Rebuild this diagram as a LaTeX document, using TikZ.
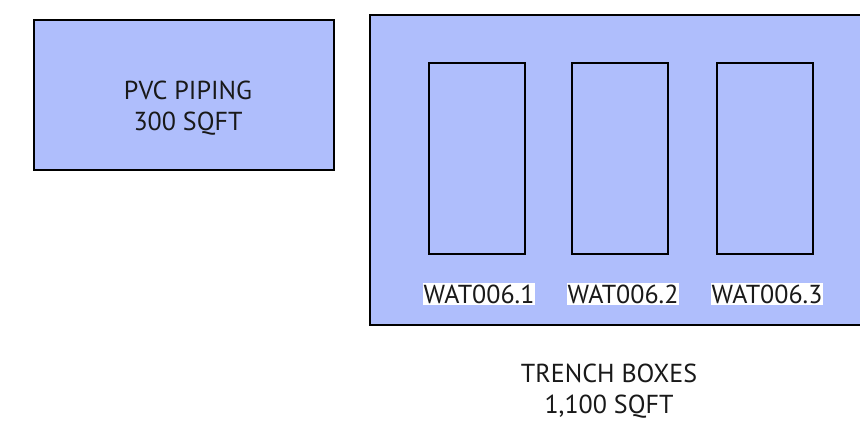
\documentclass[tikz,border=0pt]{standalone}
\usepackage{fontspec}
\setmainfont{PT Sans}
\definecolor{boxfill}{RGB}{175,190,252}
\begin{document}
\begin{tikzpicture}[x=1pt,y=-1pt,
  area/.style={draw=black,line width=2pt,fill=boxfill},
  slot/.style={draw=black,line width=1.6pt},
  lbl/.style={font=\fontsize{26}{31}\selectfont,align=center,text=black!90},
  tag/.style={fill=white,inner xsep=1pt,inner ysep=2pt,font=\fontsize{26}{31}\selectfont,text=black!90}]
\clip (0,0) rectangle (860,425);
\useasboundingbox (0,0) rectangle (860,425);
\draw[area] (34,20) rectangle (334,170);
\node[lbl] (pvc) at (188,108) {PVC PIPING\\300 SQFT};
\draw[area] (370,15) rectangle (870,325);
\draw[slot] (429,63) rectangle (525,254);
\draw[slot] (572,63) rectangle (668,254);
\draw[slot] (717,63) rectangle (813,254);
\node[tag] (w1) at (479,294) {WAT006.1};
\node[tag] (w2) at (623,294) {WAT006.2};
\node[tag] (w3) at (767,294) {WAT006.3};
\node[lbl] (trench) at (609,391) {TRENCH BOXES\\1,100 SQFT};
\end{tikzpicture}
\end{document}
